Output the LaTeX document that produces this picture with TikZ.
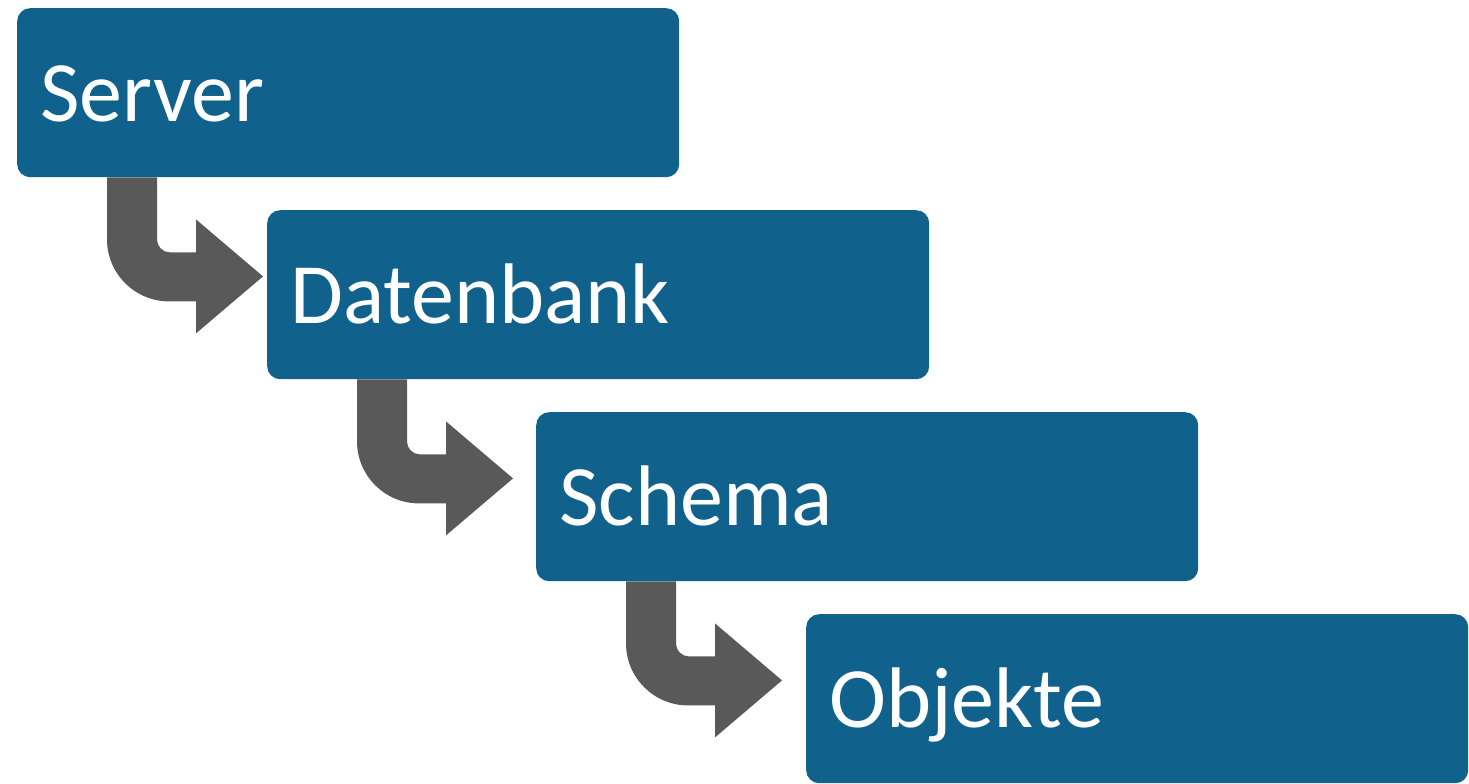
\documentclass[tikz,border=0pt]{standalone}
\usepackage{fontspec}
\setmainfont{Carlito}
\usetikzlibrary{calc}

\definecolor{boxblue}{RGB}{16,98,140}
\definecolor{arrowgrey}{RGB}{89,89,89}

\tikzset{
  stepbox/.style={
    rectangle, rounded corners=13pt, fill=boxblue, text=white,
    anchor=north west,
    minimum width=662pt, minimum height=169pt,
    inner xsep=23pt, inner ysep=0pt,
    text width=616pt, align=left,
    text height=57pt, text depth=0pt,
    font=\fontsize{86pt}{100pt}\selectfont
  },
  arrowfill/.style={fill=arrowgrey}
}

% Bent grey arrow leaving the bottom of one box and pointing right,
% towards the next box of the staircase.
\newcommand\stairarrow[2]{%
  \coordinate (#1-#2) at ($(#1.south west)+(90,0)$);
  \fill[arrowfill]
    (#1-#2)
    -- ($(#1-#2)+(50,0)$)
    -- ($(#1-#2)+(50,62)$)
    .. controls ($(#1-#2)+(50,69.2)$) and ($(#1-#2)+(55.8,75)$) .. ($(#1-#2)+(63,75)$)
    -- ($(#1-#2)+(89,75)$)
    -- ($(#1-#2)+(89,42)$)
    -- ($(#1-#2)+(156,99)$)
    -- ($(#1-#2)+(89,156)$)
    -- ($(#1-#2)+(89,124)$)
    -- ($(#1-#2)+(62,124)$)
    .. controls ($(#1-#2)+(27.8,124)$) and ($(#1-#2)+(0,96.2)$) .. ($(#1-#2)+(0,62)$)
    -- cycle;
}

\begin{document}
\begin{tikzpicture}[x=1pt,y=-1pt]
  \useasboundingbox (0,0) rectangle (1469,784);

  \node[stepbox] (server)    at (17,8)    {Server};
  \node[stepbox] (datenbank) at (267,210) {Datenbank};
  \node[stepbox] (schema)    at (536,412) {Schema};
  \node[stepbox] (objekte)   at (806,614) {Objekte};

  \stairarrow{server}{datenbank}
  \stairarrow{datenbank}{schema}
  \stairarrow{schema}{objekte}
\end{tikzpicture}
\end{document}
